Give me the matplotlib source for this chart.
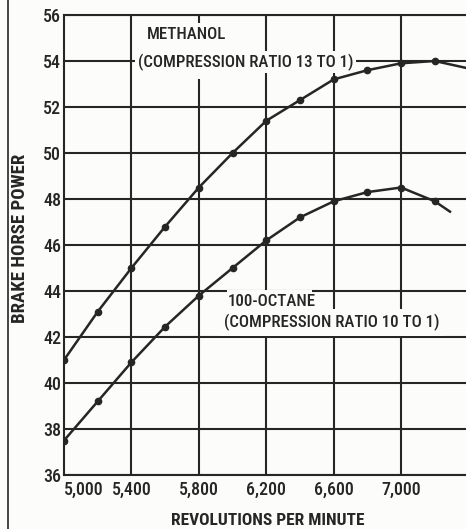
import numpy as np
import matplotlib
matplotlib.use('Agg')
import matplotlib.pyplot as plt
from matplotlib.lines import Line2D
from matplotlib.patches import Rectangle


# data
rpm = [5000, 5200, 5400, 5600, 5800, 6000, 6200, 6400, 6600, 6800, 7000, 7200]
methanol = [41.0, 43.1, 45.0, 46.8, 48.5, 50.0, 51.4, 52.3, 53.2, 53.6, 53.9, 54.0]
octane = [37.5, 39.2, 40.9, 42.45, 43.8, 45.0, 46.2, 47.2, 47.9, 48.3, 48.5, 47.9]

# curves run a bit past the last plotted point
methanol_tail_rpm = [7200, 7385]
methanol_tail = [54.0, 53.7]
octane_tail_rpm = [7200, 7290]
octane_tail = [47.9, 47.45]

x_ticks = [5000, 5400, 5800, 6200, 6600, 7000]
x_labels = ['5,000', '5,400', '5,800', '6,200', '6,600', '7,000']
y_ticks = [36, 38, 40, 42, 44, 46, 48, 50, 52, 54, 56]

ink = '#262626'
paper = '#fcfcfa'
plt.rcParams['font.family'] = ['Roboto Condensed', 'Archivo Narrow', 'PT Sans Narrow',
                               'Liberation Sans Narrow', 'Oswald', 'DejaVu Sans']
plt.rcParams['font.weight'] = 'medium'

fig = plt.figure(figsize=(4.66, 5.29), dpi=100)
fig.patch.set_facecolor(paper)
ax = fig.add_axes([64 / 466, 1 - 475 / 529, 1 - 64 / 466, 460 / 529])
ax.set_facecolor(paper)

ax.set_xlim(5000, 7385)
ax.set_ylim(36, 56)

# grid
for yv in y_ticks:
    ax.axhline(yv, color=ink, lw=1.5, zorder=1)
for xv in x_ticks[1:]:
    ax.axvline(xv, color=ink, lw=1.5, zorder=1)

ax.spines['right'].set_visible(False)
for s in ['left', 'top', 'bottom']:
    ax.spines[s].set_color(ink)
    ax.spines[s].set_linewidth(1.5)

ax.plot(rpm, methanol, color=ink, lw=1.8, marker='o', ms=4.5, zorder=3)
ax.plot(methanol_tail_rpm, methanol_tail, color=ink, lw=1.8, zorder=3)
ax.plot(rpm, octane, color=ink, lw=1.8, marker='o', ms=4.5, zorder=3)
ax.plot(octane_tail_rpm, octane_tail, color=ink, lw=1.8, zorder=3)

ax.set_xticks(x_ticks)
ax.set_xticklabels(x_labels)
ax.set_yticks(y_ticks)
ax.tick_params(length=0, labelsize=13, colors=ink, pad=4)
ax.tick_params(axis='y', pad=2)
ax.get_xticklabels()[0].set_horizontalalignment('left')

ax.set_ylabel('BRAKE HORSE POWER', fontsize=13.5, color=ink, fontweight='bold')
ax.set_xlabel('REVOLUTIONS PER MINUTE', fontsize=12.5, color=ink, fontweight='bold')
ax.yaxis.set_label_coords(-0.11, 0.515)
ax.xaxis.set_label_coords(0.507, -0.098)
ax.xaxis.label.set_va('center')
ax.yaxis.label.set_va('center')

# blank patches behind the labels break the grid lines, as on the original
ax.add_patch(Rectangle((0.197, 0.86), 0.208, 0.123, transform=ax.transAxes,
                       facecolor=paper, edgecolor='none', zorder=1.5))
ax.add_patch(Rectangle((0.405, 0.33), 0.212, 0.072, transform=ax.transAxes,
                       facecolor=paper, edgecolor='none', zorder=1.5))

box = dict(facecolor=paper, edgecolor='none', pad=2)
ax.text(5493, 55.15, 'METHANOL', fontsize=12.2, color=ink, va='center', ha='left', zorder=2)
ax.text(5440, 53.95, '(COMPRESSION RATIO 13 TO 1)', fontsize=12.2, color=ink,
        va='center', ha='left', bbox=box, zorder=2)
ax.text(5969, 43.55, '100-OCTANE', fontsize=12.2, color=ink, va='center', ha='left',
        zorder=2)
ax.text(5951, 42.65, '(COMPRESSION RATIO 10 TO 1)', fontsize=12.2, color=ink,
        va='center', ha='left', bbox=dict(facecolor=paper, edgecolor='none', pad=3.5),
        zorder=2)

# frame line at the left edge of the page
fig.add_artist(Line2D([8 / 466, 8 / 466], [0, 1], color=ink, lw=1.2,
                      transform=fig.transFigure))

fig.savefig('out.png', dpi=100, facecolor=fig.get_facecolor())
